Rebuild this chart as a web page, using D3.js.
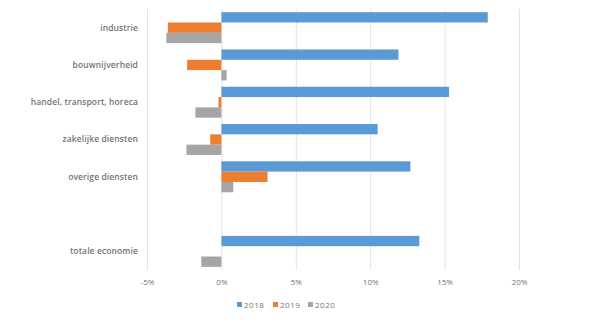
<!DOCTYPE html>
<html>
<head>
<meta charset="utf-8">
<script src="https://cdn.jsdelivr.net/npm/d3@7"></script>
<style>
  html, body { margin: 0; padding: 0; background: #fff; }
  svg { display: block; font-family: "Open Sans", "DejaVu Sans", sans-serif; }
</style>
</head>
<body>
<svg id="chart" width="597" height="330"></svg>
<script>
// Sectors (empty row separates the total from the sectors)
const categories = ["industrie", "bouwnijverheid", "handel, transport, horeca",
                    "zakelijke diensten", "overige diensten", "", "totale economie"];
const years = ["2018", "2019", "2020"];
const values2018 = [17.9, 11.9, 15.3, 10.5, 12.7, null, 13.3];
const values2019 = [-3.6, -2.3, -0.2, -0.75, 3.1, null, 0.0];
const values2020 = [-3.7, 0.35, -1.75, -2.35, 0.8, null, -1.35];
const tickValues = [-5, 0, 5, 10, 15, 20];
const colors = ["#5B9BD5", "#ED7D31", "#A5A5A5"];

const series = [values2018, values2019, values2020];

const svg = d3.select("#chart");
const margin = { left: 147, right: 78, top: 9, bottom: 60 };
const W = 597, H = 330;

const x = d3.scaleLinear().domain([-5, 20]).range([margin.left, W - margin.right]);
const y = d3.scaleBand().domain(categories.map((c, i) => i))
  .range([margin.top, H - margin.bottom]).paddingInner(0.17).paddingOuter(0.085);
const ySub = d3.scaleBand().domain(years).range([0, y.bandwidth()]);

// gridlines
const grid = svg.append("g");
grid.selectAll("line").data(tickValues).join("line")
  .attr("x1", d => x(d) + 0.5).attr("x2", d => x(d) + 0.5)
  .attr("y1", margin.top).attr("y2", H - margin.bottom)
  .attr("stroke", "#E3E3E3").attr("stroke-width", 1);

// bars
series.forEach((vals, si) => {
  svg.append("g").selectAll("rect")
    .data(vals.map((v, i) => ({ v, i })).filter(d => d.v !== null))
    .join("rect")
    .attr("x", d => x(Math.min(0, d.v)))
    .attr("width", d => Math.abs(x(d.v) - x(0)))
    .attr("y", d => y(d.i) + ySub(years[si]))
    .attr("height", ySub.bandwidth())
    .attr("fill", colors[si]);
});

// category labels
svg.append("g").selectAll("text").data(categories).join("text")
  .attr("x", 138)
  .attr("y", (d, i) => y(i) + y.bandwidth() / 2)
  .attr("dy", "0.35em")
  .attr("text-anchor", "end")
  .attr("font-size", 8.5)
  .attr("font-weight", 600)
  .attr("letter-spacing", 0.1)
  .attr("fill", "#747474")
  .text(d => d);

// x axis tick labels
const xAxis = d3.axisBottom(x).tickValues(tickValues).tickSize(0).tickPadding(9)
  .tickFormat(d => d + "%");
const ax = svg.append("g").attr("transform", `translate(0,${H - margin.bottom})`).call(xAxis);
ax.select(".domain").remove();
ax.selectAll("text").attr("font-size", 8).attr("fill", "#747474")
  .attr("font-family", "\"Open Sans\", \"DejaVu Sans\", sans-serif");

// legend
const legend = svg.append("g").attr("transform", "translate(237,305)");
const legX = [0, 36, 71];
years.forEach((yr, i) => {
  const g = legend.append("g").attr("transform", `translate(${legX[i]},0)`);
  g.append("rect").attr("x", 0).attr("y", -3).attr("width", 5).attr("height", 5).attr("fill", colors[i]);
  g.append("text").attr("x", 7).attr("y", 0).attr("dy", "0.35em")
    .attr("font-size", 8).attr("letter-spacing", 0.5).attr("fill", "#747474").text(yr);
});
</script>
</body>
</html>
